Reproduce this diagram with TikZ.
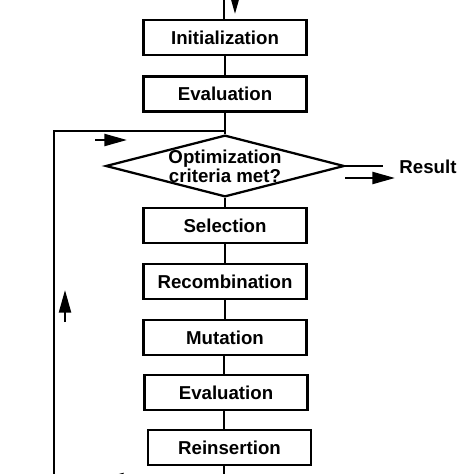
\documentclass[tikz,border=0pt]{standalone}
\usepackage{fontspec}
\setmainfont{Liberation Sans}
\usetikzlibrary{shapes.geometric,arrows.meta}

\def\boxW{122.25pt}
\def\boxH{26.25pt}

\begin{document}
\begin{tikzpicture}[x=0.75pt, y=-0.75pt, line width=1.7pt,
  font=\fontsize{14pt}{11.5pt}\selectfont\bfseries,
  >={Triangle[length=17pt,width=9pt]},
  box/.style={draw, minimum width=\boxW, minimum height=\boxH, inner sep=0pt},
  crit/.style={draw, diamond, aspect=3.87, minimum width=177pt, minimum height=45.75pt, inner sep=0pt, align=center}]
\useasboundingbox (0,0) rectangle (474,474);
\clip (0,0) rectangle (474,474);
% Boxes
\node[box] (init)  at (225,37.5)  {Initialization};
\node[box] (eval1) at (225,94)    {Evaluation};
\node[crit] (opt)  at (225,166)   {Optimization\\criteria met?};
\node[box] (sel)   at (225,225.5) {Selection};
\node[box] (rec)   at (225,281.5) {Recombination};
\node[box] (mut)   at (225,337.5) {Mutation};
\node[box] (eval2) at (226,392.5) {Evaluation};
\node[box] (rein)  at (229.5,447.5) {Reinsertion};
\node (result) at (428,167) {Result};
% Free ends
\coordinate (top) at (224,-10);
\coordinate (bot) at (224,500);
\coordinate (lt) at (54,131);
\coordinate (lb) at (54,500);
% Main chain
\draw (top) -- (top |- init.north);
\foreach \a/\b in {init/eval1, eval1/opt, opt/sel, sel/rec, rec/mut}
  \draw (\a) -- (\b);
\draw (mut.south -| top) -- (eval2.north -| top);
\draw (eval2.south -| top) -- (rein.north -| top);
\draw (rein.south -| top) -- (bot);
% Loop back
\draw (lb) -- (lt) -- (lt -| opt);
% Exit
\draw[shorten >=8.5pt] (opt.east) -- (result.west |- opt.east);
% Direction arrows
\draw[->] (235,-15) -- (235,14);
\draw[->] (95,140) -- (127,140);
\draw[->] (345,178) -- (395,178);
\draw[->] (65,322) -- (65,290);
\draw[->] (135,479) -- (101,479);
\end{tikzpicture}
\end{document}
